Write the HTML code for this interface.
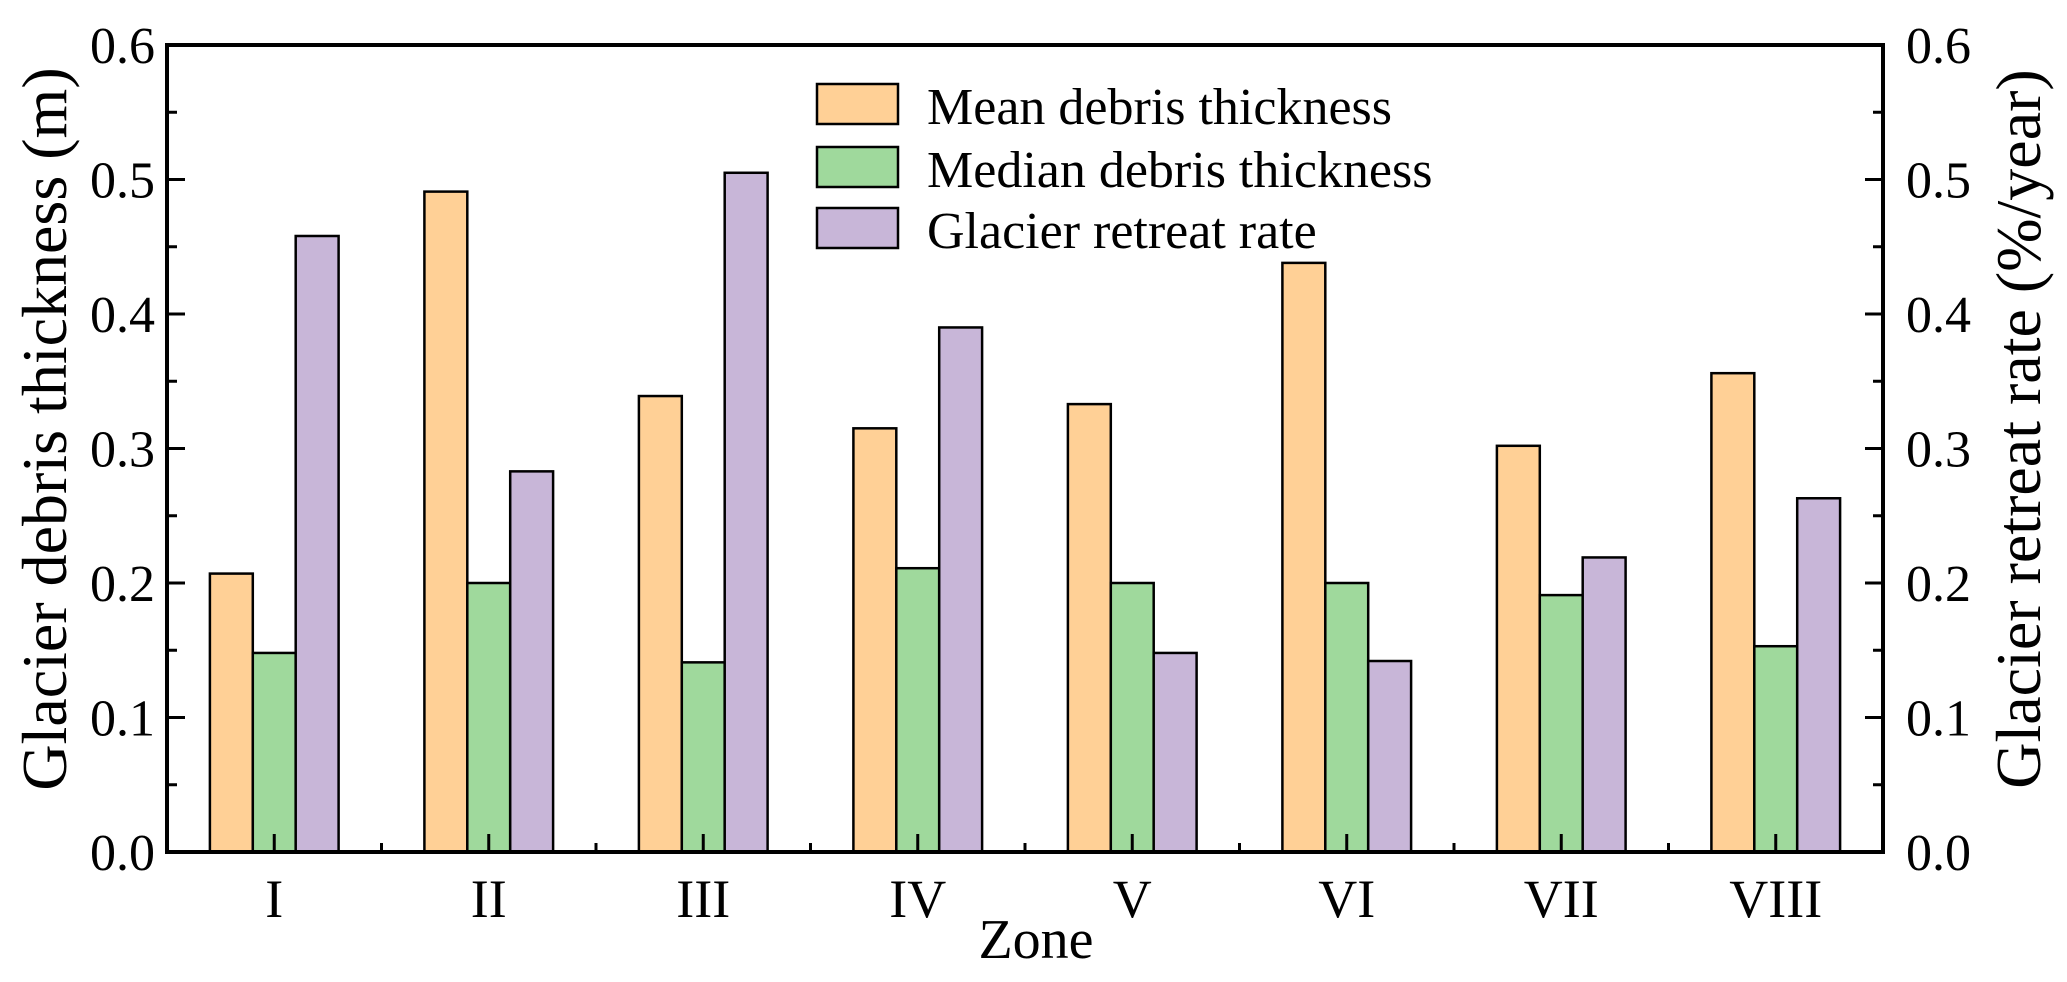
<!DOCTYPE html>
<html><head><meta charset="utf-8"><style>
body{margin:0;background:#fff}
svg text{font-family:"Liberation Serif",serif;fill:#000}
</style></head><body>
<svg id="chart" width="2067" height="977" viewBox="0 0 2067 977" xmlns="http://www.w3.org/2000/svg">
<g id="bars"></g>
<g id="axes"></g>
<g>
 <g><rect x="817" y="84" width="81" height="40" fill="#FFD096" stroke="#000" stroke-width="2.5"/><text x="927" y="124" font-size="52" font-family="Liberation Serif, serif">Mean debris thickness</text></g>
 <g><rect x="817" y="147" width="81" height="40" fill="#9FD99C" stroke="#000" stroke-width="2.5"/><text x="927" y="187" font-size="52" font-family="Liberation Serif, serif">Median debris thickness</text></g>
 <g><rect x="817" y="208" width="81" height="40" fill="#C8B6D8" stroke="#000" stroke-width="2.5"/><text x="927" y="248" font-size="52" font-family="Liberation Serif, serif">Glacier retreat rate</text></g>
</g>
<text x="1036" y="958" font-size="56" text-anchor="middle" font-family="Liberation Serif, serif">Zone</text>
<text transform="translate(66,429) rotate(-90)" font-size="64" text-anchor="middle" font-family="Liberation Serif, serif">Glacier debris thickness (m)</text>
<text transform="translate(2040,429) rotate(-90)" font-size="64" text-anchor="middle" font-family="Liberation Serif, serif">Glacier retreat rate (%/year)</text>
</svg>
<script>
const categories=["I","II","III","IV","V","VI","VII","VIII"];
const meanThickness=[0.207,0.491,0.339,0.315,0.333,0.438,0.302,0.356];
const medianThickness=[0.148,0.200,0.141,0.211,0.200,0.200,0.191,0.153];
const retreatRate=[0.458,0.283,0.505,0.390,0.148,0.142,0.219,0.263];
const yTicks=["0.0","0.1","0.2","0.3","0.4","0.5","0.6"];

const NS="http://www.w3.org/2000/svg";
const L=167,R=1883,T=45,B=852,YMAX=0.6;
const band=(R-L)/categories.length, bw=band*0.2;
const y=v=>B-(v/YMAX)*(B-T);
const xc=i=>L+band*(i+0.5);
function mk(tag,attrs,parent){const e=document.createElementNS(NS,tag);for(const k in attrs)e.setAttribute(k,attrs[k]);parent.appendChild(e);return e;}
const bars=document.getElementById('bars'), axes=document.getElementById('axes');
const series=[[meanThickness,"#FFD096","mean"],[medianThickness,"#9FD99C","median"],[retreatRate,"#C8B6D8","retreat"]];
categories.forEach((c,i)=>{
  series.forEach((s,j)=>{
    const x0=xc(i)-1.5*bw+j*bw;
    const r=mk('rect',{x:x0,y:y(s[0][i]),width:bw,height:B-y(s[0][i]),fill:s[1],stroke:"#000","stroke-width":2.5},bars);
    
    
  });
  const t=mk('text',{x:xc(i),y:917,"font-size":54,"text-anchor":"middle"},axes);
  t.textContent=c;
  
  
  mk('line',{x1:xc(i),x2:xc(i),y1:B,y2:B-18,stroke:"#000","stroke-width":3},axes);
  mk('line',{x1:L+band*i,x2:L+band*i,y1:B,y2:B-9,stroke:"#000","stroke-width":3},axes);
});
const frame=mk('rect',{x:L,y:T,width:R-L,height:B-T,fill:"none",stroke:"#000","stroke-width":4},axes);


yTicks.forEach((lab,k)=>{
  const v=parseFloat(lab), yy=y(v);
  mk('line',{x1:L,x2:L+18,y1:yy,y2:yy,stroke:"#000","stroke-width":3},axes);
  mk('line',{x1:R,x2:R-18,y1:yy,y2:yy,stroke:"#000","stroke-width":3},axes);
  if(k<yTicks.length-1){const ym=y(v+0.05);
    mk('line',{x1:L,x2:L+10,y1:ym,y2:ym,stroke:"#000","stroke-width":3},axes);
    mk('line',{x1:R,x2:R-10,y1:ym,y2:ym,stroke:"#000","stroke-width":3},axes);}
  const tl=mk('text',{x:155,y:yy+18,"font-size":52,"text-anchor":"end"},axes);
  tl.textContent=lab;
  
  
  const tr=mk('text',{x:1906,y:yy+18,"font-size":52},axes);
  tr.textContent=lab;
  
  
});
</script>
</body></html>
